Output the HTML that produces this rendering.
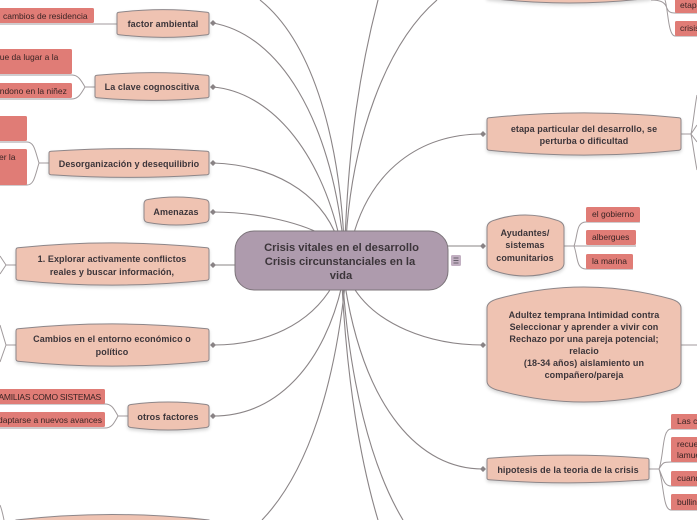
<!DOCTYPE html>
<html><head><meta charset="utf-8"><style>
html,body{margin:0;padding:0;background:#fff;width:697px;height:520px;overflow:hidden}
svg{display:block}
text{font-family:"Liberation Sans",sans-serif}
.t{font-size:9px;font-weight:bold;fill:#3c353a;text-anchor:middle;letter-spacing:.08px}
.l{font-size:8.500px;fill:#3a2424;letter-spacing:0}
.c{fill:none;stroke:#8a8486;stroke-width:1.100}
.b{fill:none;stroke:#a09a9c;stroke-width:1}
.n{fill:#efc3b2;stroke:#8d8689;stroke-width:1;filter:drop-shadow(0 2px 1.500px rgba(0,0,0,.16))}
.r{fill:#e07c76}
.d{fill:#8a8486}
</style></head><body>
<svg width="697" height="520" viewBox="0 0 697 520" xmlns="http://www.w3.org/2000/svg">
<path class="c" d="M344 240C338 130 310 40 260 0"/>
<path class="c" d="M343 240C330 120 280 35 213 23"/>
<path class="c" d="M340 240C320 150 270 92 213 87"/>
<path class="c" d="M338 240C320 190 270 165 213 163"/>
<path class="c" d="M325 236C295 220 250 212 213 212"/>
<path class="c" d="M345 240C349 140 360 70 378 0"/>
<path class="c" d="M346 240C352 140 385 45 437 0"/>
<path class="c" d="M352 240C370 170 420 134 483 134"/>
<path class="c" d="M213 265H240"/>
<path class="c" d="M333 285C310 325 265 345 213 345"/>
<path class="c" d="M342 285C325 360 280 416 213 416"/>
<path class="c" d="M345 285C335 380 310 470 262 520"/>
<path class="c" d="M342 285C347 380 360 460 378 520"/>
<path class="c" d="M343 285C350 380 370 465 403 520"/>
<path class="c" d="M345 285C365 410 420 469 483 469"/>
<path class="c" d="M352 285C375 325 430 345 483 345"/>
<path class="c" d="M440 246H483"/>
<path class="d" d="M210 23l3-3 3 3-3 3zM210 87l3-3 3 3-3 3zM210 163l3-3 3 3-3 3zM210 212l3-3 3 3-3 3zM210 265l3-3 3 3-3 3zM210 345l3-3 3 3-3 3zM210 416l3-3 3 3-3 3zM480 134l3-3 3 3-3 3zM480 246l3-3 3 3-3 3zM480 345l3-3 3 3-3 3zM480 469l3-3 3 3-3 3z"/>
<g class="b">
<path d="M94 24H0M117 24H94"/>
<path d="M95 87H85C81 80 78 75 72 75H0M85 87C81 94 78 99 72 99H0"/>
<path d="M49 163H39C35 150 34 142 27 142H0M39 163C35 176 34 185 27 185H0"/>
<path d="M16 265H6L0 256M6 265L0 274"/>
<path d="M16 345H6L0 325M6 345L0 362"/>
<path d="M128 416H118C114 409 112 404 105 404H0M118 416C114 423 112 428 105 428H0"/>
<path d="M0 505C2 510 3 515 4 520"/>
<path d="M681 134H691C693 125 695 105 697 95M691 134L697 125M691 134L697 142M691 134C693 145 695 160 697 170"/>
<path d="M681 345H697"/>
<path d="M651 0C660 0 664 2 666 6C668 11 669 13 675 13H697M665 0C668 8 668 36 675 36H697"/>
<path d="M564 246H574C578 235 576 222 586 222H640M574 246H586H636M574 246C578 257 576 269 586 269H633"/>
<path d="M649 469H659C664 455 662 429 671 429H697M659 469C663 462 664 462 671 462H697M659 469C663 478 664 486 671 486H697M659 469C664 485 663 510 671 510H697"/>
</g>
<g class="r">
<rect x="-3" y="8" width="97" height="15" rx="1.500"/>
<rect x="-3" y="49" width="75" height="25" rx="1.500"/>
<rect x="-3" y="83" width="75" height="15" rx="1.500"/>
<rect x="-3" y="116" width="30" height="25" rx="1.500"/>
<rect x="-3" y="149" width="30" height="36" rx="1.500"/>
<rect x="-3" y="389" width="108" height="15" rx="1.500"/>
<rect x="-3" y="412" width="108" height="15" rx="1.500"/>
<rect x="675" y="-2" width="30" height="15" rx="1.500"/>
<rect x="675" y="21" width="30" height="15" rx="1.500"/>
<rect x="586" y="207" width="54" height="15" rx="1.500"/>
<rect x="586" y="230" width="50" height="15" rx="1.500"/>
<rect x="586" y="254" width="47" height="15" rx="1.500"/>
<rect x="671" y="414" width="30" height="15" rx="1.500"/>
<rect x="671" y="437" width="30" height="25" rx="1.500"/>
<rect x="671" y="471" width="30" height="15" rx="1.500"/>
<rect x="671" y="494" width="30" height="16" rx="1.500"/>
</g>
<g class="l">
<text x="3" y="19">cambios de residencia</text>
<text x="-5" y="60">que da lugar a la</text>
<text x="-5" y="94">andono en la niñez</text>
<text x="-1" y="160">er la</text>
<text x="-6" y="400" style="letter-spacing:-.25px">FAMILIAS COMO SISTEMAS</text>
<text x="-2" y="423">daptarse a nuevos avances</text>
<text x="680" y="8">etapa</text>
<text x="680" y="31">crisis</text>
<text x="592" y="217">el gobierno</text>
<text x="592" y="240">albergues</text>
<text x="592" y="264">la marina</text>
<text x="677" y="424">Las c</text>
<text x="677" y="447">recuer</text>
<text x="677" y="458">lamuer</text>
<text x="677" y="481">cuand</text>
<text x="677" y="505">bulling</text>
</g>
<path class="n" d="M117 14Q117 12.500 119 12.300Q163 7 207 12.300Q209 12.500 209 14V33Q209 34.500 207 34.700Q163 40 119 34.700Q117 34.500 117 33Z"/>
<path class="n" d="M95 77Q95 75.500 97 75.300Q152 70 207 75.300Q209 75.500 209 77V96Q209 97.500 207 97.700Q152 103 97 97.700Q95 97.500 95 96Z"/>
<path class="n" d="M49 153Q49 151.500 51 151.300Q129 146 207 151.300Q209 151.500 209 153V173Q209 174.500 207 174.700Q129 180 51 174.700Q49 174.500 49 173Z"/>
<path class="n" d="M144 204Q144 200 148 199.500Q176 194.500 205 199.500Q209 200 209 204V218Q209 222 205 222.500Q176 227.500 148 222.500Q144 222 144 218Z"/>
<path class="n" d="M16 250Q16 248 18 247.800Q112 238 207 247.800Q209 248 209 250V278Q209 280 207 280.200Q112 290 18 280.200Q16 280 16 278Z"/>
<path class="n" d="M16 331Q16 329 18 328.800Q112 319 207 328.800Q209 329 209 331V359Q209 361 207 361.200Q112 371 18 361.200Q16 361 16 359Z"/>
<path class="n" d="M128 407Q128 405 131 404.500Q168 399.500 206 404.500Q209 405 209 407V425Q209 427 206 427.500Q168 432.500 131 427.500Q128 427 128 425Z"/>
<path class="n" d="M16 524V520Q112 509 209 520V524Z"/>
<path class="n" d="M487 -8V-2Q569 8 651 -2V-8Z"/>
<path class="n" d="M487 120Q487 118 489 117.800Q584 108 679 117.800Q681 118 681 120V148Q681 150 679 150.200Q584 160 489 150.200Q487 150 487 148Z"/>
<path class="n" d="M487 228Q487 222 495 220Q525 210 556 220Q564 222 564 228V263Q564 269 556 271Q525 281 495 271Q487 269 487 263Z"/>
<path class="n" d="M487 308Q487 302 497 299Q584 275 671 299Q681 302 681 308V381Q681 387 671 390Q584 414 497 390Q487 387 487 381Z"/>
<path class="n" d="M487 460Q487 458.500 489 458.300Q568 452 647 458.300Q649 458.500 649 460V478Q649 479.500 647 479.700Q568 486 489 479.700Q487 479.500 487 478Z"/>
<rect x="235" y="231" width="213" height="59" rx="19" fill="#ae9bad" stroke="#7c747a"/>
<rect x="451" y="255" width="10" height="11" rx="1.500" fill="#c2b0c2"/>
<path d="M453.500 258H458.500M453.500 260.500H458.500M453.500 263H458.500" stroke="#4b4650" stroke-width=".8"/>
<g class="t">
<text x="163" y="27">factor ambiental</text>
<text x="152" y="90">La clave cognoscitiva</text>
<text x="129" y="167">Desorganización y desequilibrio</text>
<text x="176" y="215">Amenazas</text>
<text x="112" y="262">1. Explorar activamente conflictos</text>
<text x="112" y="275">reales y buscar información,</text>
<text x="112" y="342">Cambios en el entorno económico o</text>
<text x="112" y="355">político</text>
<text x="168" y="420">otros factores</text>
<text x="584" y="132">etapa particular del desarrollo, se</text>
<text x="584" y="144">perturba o dificultad</text>
<text x="525" y="236">Ayudantes/</text>
<text x="525" y="248">sistemas</text>
<text x="525" y="261">comunitarios</text>
<text x="584" y="318">Adultez temprana Intimidad contra</text>
<text x="584" y="330">Seleccionar y aprender a vivir con</text>
<text x="584" y="342">Rechazo por una pareja potencial;</text>
<text x="584" y="354">relacio</text>
<text x="584" y="366">(18-34 años) aislamiento un</text>
<text x="584" y="378">compañero/pareja</text>
<text x="568" y="473">hipotesis de la teoria de la crisis</text>
<text x="341.500" y="251" style="font-size:11.200px;letter-spacing:0">Crisis vitales en el desarrollo</text>
<text x="340" y="265" style="font-size:11.200px;letter-spacing:0">Crisis circunstanciales en la</text>
<text x="341" y="279" style="font-size:11.200px;letter-spacing:0">vida</text>
</g>
</svg>
</body></html>
